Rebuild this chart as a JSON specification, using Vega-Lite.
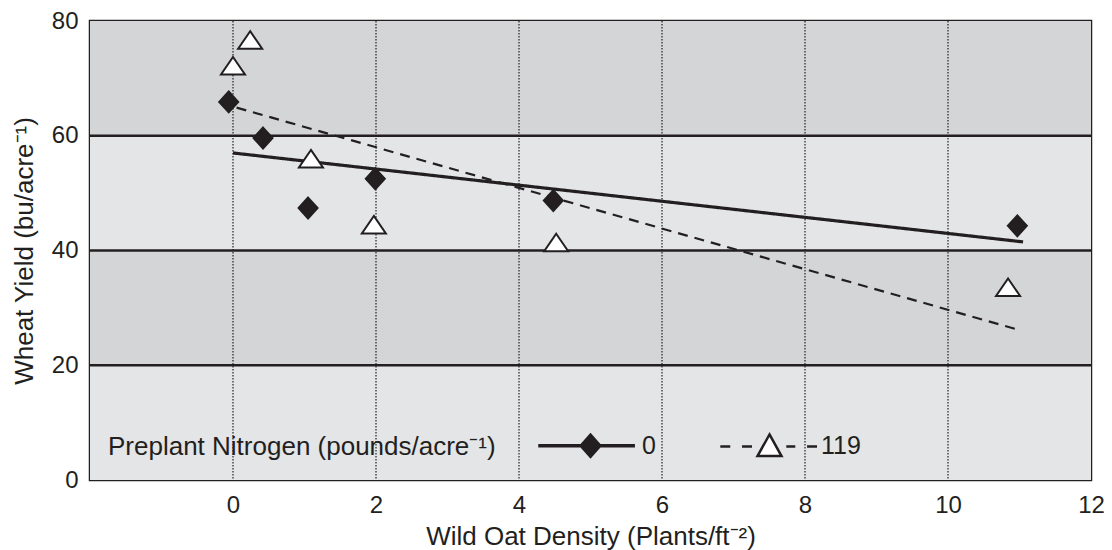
{
  "$schema": "https://vega.github.io/schema/vega-lite/v6.json",
  "width": 1001,
  "height": 459,
  "autosize": {"type": "none"},
  "padding": {"left": 90, "top": 21, "right": 21, "bottom": 70},
  "background": "white",
  "config": {
    "font": "Liberation Sans",
    "view": {"stroke": "#231f20", "strokeWidth": 2.5},
    "axis": {
      "labelFont": "Liberation Sans",
      "titleFont": "Liberation Sans",
      "labelFontSize": 24,
      "titleFontSize": 26,
      "titleFontWeight": "normal",
      "labelColor": "#231f20",
      "titleColor": "#231f20",
      "domain": false,
      "ticks": false,
      "grid": false,
      "labelFlush": false
    },
    "legend": {
      "orient": "bottom-left",
      "direction": "horizontal",
      "titleOrient": "left",
      "titleAnchor": "middle",
      "titleBaseline": "middle",
      "titleFont": "Liberation Sans",
      "titleFontSize": 26,
      "titleFontWeight": "normal",
      "titleColor": "#231f20",
      "titlePadding": 42,
      "titleLimit": 0,
      "labelFont": "Liberation Sans",
      "labelFontSize": 25,
      "labelColor": "#231f20",
      "labelLimit": 0,
      "symbolSize": 576,
      "symbolStrokeWidth": 2.5,
      "symbolStrokeColor": "#231f20",
      "symbolOffset": 39,
      "labelOffset": 38,
      "columnPadding": 59,
      "offset": 18,
      "padding": 0
    }
  },
  "datasets": {
    "bands": [
      {"yield": 0, "yield2": 20},
      {"yield": 20, "yield2": 40},
      {"yield": 40, "yield2": 60},
      {"yield": 60, "yield2": 80}
    ],
    "xgrid": [
      {"density": 0}, {"density": 2}, {"density": 4}, {"density": 6}, {"density": 8}, {"density": 10}
    ],
    "ygrid": [
      {"yield": 20}, {"yield": 40}, {"yield": 60}
    ],
    "fits": [
      {"N": "0", "density": 0, "yield": 57.0},
      {"N": "0", "density": 11.05, "yield": 41.5},
      {"N": "119", "density": 0.05, "yield": 64.9},
      {"N": "119", "density": 10.95, "yield": 26.3}
    ],
    "points": [
      {"N": "0", "density": -0.06, "yield": 65.9},
      {"N": "0", "density": 0.42, "yield": 59.6},
      {"N": "0", "density": 1.05, "yield": 47.4},
      {"N": "0", "density": 1.99, "yield": 52.5},
      {"N": "0", "density": 4.48, "yield": 48.7},
      {"N": "0", "density": 10.97, "yield": 44.3},
      {"N": "119", "density": 0.0, "yield": 72.2},
      {"N": "119", "density": 0.24, "yield": 76.7},
      {"N": "119", "density": 1.09, "yield": 56.0},
      {"N": "119", "density": 1.97, "yield": 44.5},
      {"N": "119", "density": 4.52, "yield": 41.4},
      {"N": "119", "density": 10.84, "yield": 33.6}
    ]
  },
  "layer": [
    {
      "data": {"name": "bands"},
      "mark": {"type": "rect"},
      "encoding": {
        "y": {"field": "yield", "type": "quantitative", "scale": {"domain": [0, 80], "nice": false},
          "axis": {"values": [0, 20, 40, 60, 80], "title": "Wheat Yield (bu/acre⁻¹)", "labelPadding": 12, "titlePadding": 14}},
        "y2": {"field": "yield2"},
        "fill": {
          "condition": {"test": "datum.yield == 20 || datum.yield == 60", "value": "#d4d5d7"},
          "value": "#e4e5e7"
        }
      }
    },
    {
      "data": {"name": "xgrid"},
      "mark": {"type": "rule", "stroke": "#231f20", "strokeWidth": 1.2, "strokeDash": [1.5, 1.5]},
      "encoding": {
        "x": {"field": "density", "type": "quantitative", "scale": {"domain": [-2, 12], "nice": false, "zero": false},
          "axis": {"values": [0, 2, 4, 6, 8, 10, 12], "title": "Wild Oat Density (Plants/ft⁻²)", "labelPadding": 13, "titlePadding": 6}}
      }
    },
    {
      "data": {"name": "ygrid"},
      "mark": {"type": "rule", "stroke": "#231f20", "strokeWidth": 2.5},
      "encoding": {
        "y": {"field": "yield", "type": "quantitative", "scale": {"domain": [0, 80], "nice": false},
          "axis": {"values": [0, 20, 40, 60, 80], "title": "Wheat Yield (bu/acre⁻¹)", "labelPadding": 12, "titlePadding": 14}}
      }
    },
    {
      "data": {"name": "fits"},
      "mark": {"type": "line", "stroke": "#231f20"},
      "encoding": {
        "x": {"field": "density", "type": "quantitative", "scale": {"domain": [-2, 12], "nice": false, "zero": false},
          "axis": {"values": [0, 2, 4, 6, 8, 10, 12], "title": "Wild Oat Density (Plants/ft⁻²)", "labelPadding": 13, "titlePadding": 6}},
        "y": {"field": "yield", "type": "quantitative", "scale": {"domain": [0, 80], "nice": false},
          "axis": {"values": [0, 20, 40, 60, 80], "title": "Wheat Yield (bu/acre⁻¹)", "labelPadding": 12, "titlePadding": 14}},
        "detail": {"field": "N", "type": "nominal"},
        "strokeDash": {"condition": {"test": "datum.N == '119'", "value": [10, 7]}, "value": [1, 0]},
        "strokeWidth": {"condition": {"test": "datum.N == '119'", "value": 2.2}, "value": 3.2},
        "order": {"field": "density", "type": "quantitative"}
      }
    },
    {
      "data": {"name": "points"},
      "mark": {"type": "point", "filled": true, "stroke": "#231f20", "strokeWidth": 2, "opacity": 1, "fillOpacity": 1, "strokeOpacity": 1},
      "encoding": {
        "x": {
          "field": "density", "type": "quantitative",
          "scale": {"domain": [-2, 12], "nice": false, "zero": false},
          "axis": {"values": [0, 2, 4, 6, 8, 10, 12], "title": "Wild Oat Density (Plants/ft⁻²)", "labelPadding": 13, "titlePadding": 6}
        },
        "y": {
          "field": "yield", "type": "quantitative",
          "scale": {"domain": [0, 80], "nice": false},
          "axis": {"values": [0, 20, 40, 60, 80], "title": "Wheat Yield (bu/acre⁻¹)", "labelPadding": 12, "titlePadding": 14}
        },
        "fill": {"condition": {"test": "datum.N == '0'", "value": "#231f20"}, "value": "#ffffff"},
        "size": {"condition": {"test": "datum.N == '0'", "value": 361}, "value": 576},
        "shape": {"condition": {"test": "datum.N == '0'", "value": "M0,-1.1L1,0L0,1.1L-1,0Z"}, "value": "M0,-0.73L1,0.73L-1,0.73Z"}
      }
    },
    {
      "data": {"name": "points"},
      "transform": [{"filter": "datum.N == 'legend-only'"}],
      "mark": {"type": "point", "filled": true, "strokeWidth": 2.5, "opacity": 1},
      "encoding": {
        "x": {"field": "density", "type": "quantitative", "scale": {"domain": [-2, 12], "nice": false, "zero": false},
          "axis": {"values": [0, 2, 4, 6, 8, 10, 12], "title": "Wild Oat Density (Plants/ft⁻²)", "labelPadding": 13, "titlePadding": 6}},
        "y": {"field": "yield", "type": "quantitative", "scale": {"domain": [0, 80], "nice": false},
          "axis": {"values": [0, 20, 40, 60, 80], "title": "Wheat Yield (bu/acre⁻¹)", "labelPadding": 12, "titlePadding": 14}},
        "shape": {
          "field": "N", "type": "nominal",
          "scale": {"domain": ["0", "119"], "range": [
            "M-4.25,-0.04H3.6V0.04H-4.25Z M0,-0.92L0.82,0L0,0.92L-0.82,0Z",
            "M-4.1,0H-3.27M-2.29,0H-1.46M1.4,0H2.15M3.13,0H3.96M0,-1L1,0.8L-1,0.8Z"
          ]},
          "legend": {"title": "Preplant Nitrogen (pounds/acre⁻¹)"}
        },
        "fill": {
          "field": "N", "type": "nominal",
          "scale": {"domain": ["0", "119"], "range": ["#231f20", "#ffffff"]},
          "legend": {"title": "Preplant Nitrogen (pounds/acre⁻¹)"}
        },
        "stroke": {
          "field": "N", "type": "nominal",
          "scale": {"domain": ["0", "119"], "range": ["#231f20", "#231f20"]},
          "legend": {"title": "Preplant Nitrogen (pounds/acre⁻¹)"}
        }
      }
    }
  ]
}
